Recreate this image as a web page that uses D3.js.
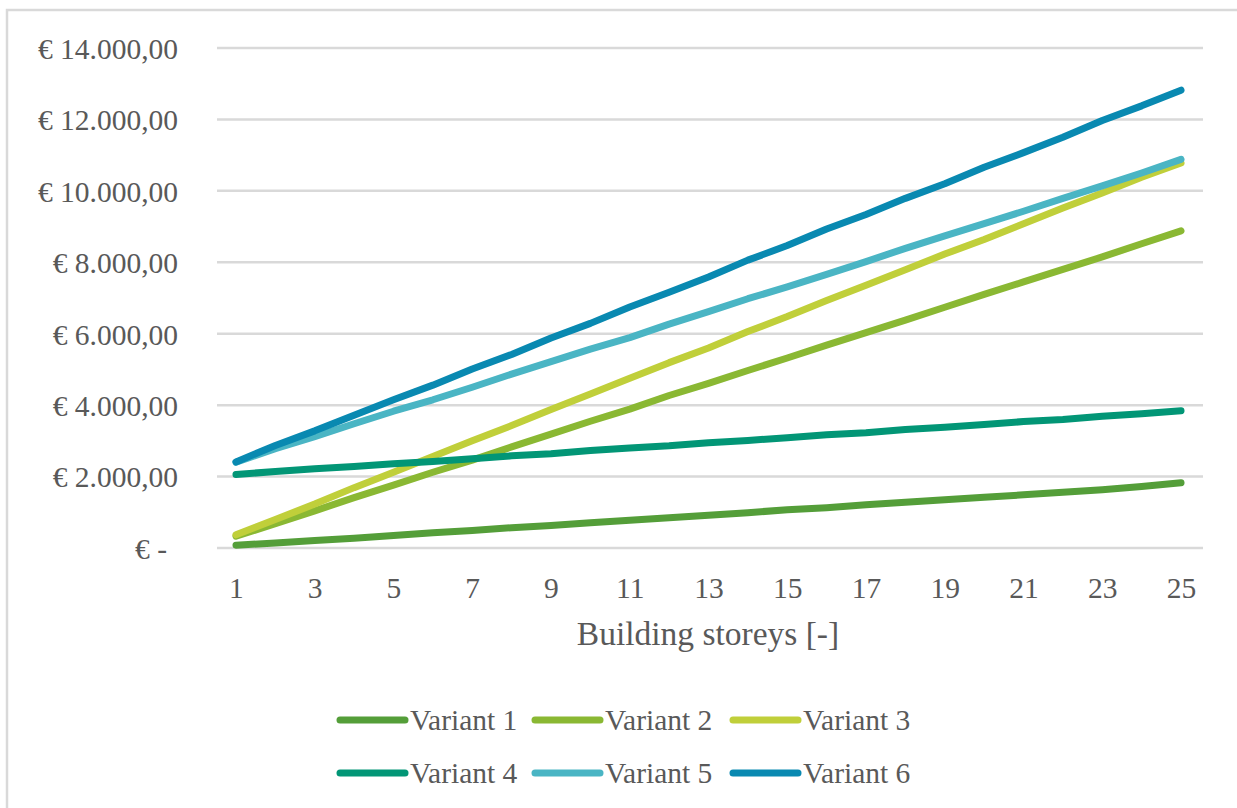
<!DOCTYPE html>
<html>
<head>
<meta charset="utf-8">
<script src="https://cdn.jsdelivr.net/npm/d3@7"></script>
<style>
  html, body { margin: 0; padding: 0; background: #fff; }
  svg { display: block; }
  text { font-family: "Liberation Serif", "Times New Roman", serif; fill: #595959; }
</style>
</head>
<body>
<svg id="chart" width="1237" height="808"></svg>
<script>
// Building storeys on the category axis
const storeys = d3.range(1, 26);
const xTickLabels = [1, 3, 5, 7, 9, 11, 13, 15, 17, 19, 21, 23, 25];
const yTicks = [0, 2000, 4000, 6000, 8000, 10000, 12000, 14000];

const seriesNames = ["Variant 1", "Variant 2", "Variant 3", "Variant 4", "Variant 5", "Variant 6"];
const seriesColors = ["#549e39", "#8ab833", "#c0cf3a", "#029676", "#4ab5c4", "#0989b1"];

// Cost per variant for 1..25 storeys (EUR)
const variant1 = [80, 140, 210, 270, 350, 430, 490, 570, 630, 710, 780, 850, 920, 990, 1070, 1130, 1210, 1280, 1350, 1420, 1490, 1560, 1630, 1720, 1830];
const variant2 = [330, 680, 1040, 1410, 1760, 2120, 2460, 2830, 3190, 3550, 3890, 4270, 4610, 4970, 5320, 5680, 6030, 6380, 6740, 7100, 7450, 7800, 8150, 8520, 8880];
const variant3 = [370, 800, 1230, 1690, 2120, 2560, 3000, 3430, 3880, 4310, 4750, 5190, 5600, 6060, 6480, 6930, 7360, 7790, 8230, 8640, 9080, 9520, 9940, 10380, 10780];
const variant4 = [2060, 2140, 2220, 2280, 2360, 2420, 2500, 2580, 2640, 2730, 2800, 2860, 2950, 3010, 3090, 3170, 3230, 3320, 3380, 3460, 3540, 3600, 3690, 3760, 3840];
const variant5 = [2400, 2780, 3120, 3480, 3830, 4150, 4500, 4870, 5220, 5570, 5890, 6270, 6620, 6980, 7310, 7660, 8020, 8390, 8740, 9080, 9430, 9790, 10140, 10500, 10880];
const variant6 = [2410, 2870, 3280, 3720, 4150, 4560, 5010, 5420, 5880, 6290, 6750, 7160, 7590, 8060, 8470, 8930, 9340, 9790, 10200, 10660, 11070, 11500, 11970, 12380, 12820];

const seriesValues = [variant1, variant2, variant3, variant4, variant5, variant6];

const svg = d3.select("#chart");

// Outer chart frame
svg.append("rect")
  .attr("x", 7).attr("y", 10)
  .attr("width", 1250).attr("height", 820)
  .attr("fill", "#fff")
  .attr("stroke", "#d9d9d9")
  .attr("stroke-width", 2.5);

const x = d3.scalePoint().domain(storeys).range([216.3, 1200.7]).padding(0.5);
const y = d3.scaleLinear().domain([0, 14000]).range([548, 48]);

// Horizontal gridlines
svg.append("g")
  .selectAll("line")
  .data(yTicks)
  .join("line")
  .attr("x1", 217).attr("x2", 1203)
  .attr("y1", d => y(d)).attr("y2", d => y(d))
  .attr("stroke", "#d9d9d9")
  .attr("stroke-width", 2.5);

// Y axis labels in accounting format
const euro = d => {
  if (d === 0) return "€ -";
  const s = d3.format(",.2f")(d);
  return "€ " + s.replace(/,/g, "#").replace(".", ",").replace(/#/g, ".");
};
const yAxis = d3.axisLeft(y).tickValues(yTicks).tickFormat(euro).tickSize(0).tickPadding(0);
const gy = svg.append("g").attr("transform", "translate(178,0)").call(yAxis);
gy.select(".domain").remove();
gy.selectAll("text")
  .attr("font-size", 29.5)
  .attr("font-family", null)
  .attr("fill", null)
  .attr("dy", "0.35em")
  .attr("x", d => d === 0 ? -11 : 0);

// X axis labels
const xAxis = d3.axisBottom(x).tickValues(xTickLabels).tickSize(0).tickPadding(0);
const gx = svg.append("g").attr("transform", "translate(0,588)").call(xAxis);
gx.select(".domain").remove();
gx.selectAll("text")
  .attr("font-size", 29.5)
  .attr("font-family", null)
  .attr("fill", null)
  .attr("dy", "0.35em");

// Axis title
svg.append("text")
  .attr("x", 708).attr("y", 633)
  .attr("dy", "0.35em")
  .attr("text-anchor", "middle")
  .attr("font-size", 33.5)
  .text("Building storeys [-]");

// Series lines
const line = d3.line()
  .x((d, i) => x(storeys[i]))
  .y(d => y(d));

svg.append("g")
  .selectAll("path")
  .data(seriesValues)
  .join("path")
  .attr("d", d => line(d))
  .attr("fill", "none")
  .attr("stroke", (d, i) => seriesColors[i])
  .attr("stroke-width", 7)
  .attr("stroke-linecap", "round")
  .attr("stroke-linejoin", "round");

// Legend: two rows of three
const legendX = [337, 532, 730];
const legendY = [720, 773];
const legend = svg.append("g")
  .selectAll("g")
  .data(seriesNames)
  .join("g")
  .attr("transform", (d, i) => `translate(${legendX[i % 3]},${legendY[Math.floor(i / 3)]})`);

legend.append("line")
  .attr("x1", 3).attr("x2", 68)
  .attr("y1", 0).attr("y2", 0)
  .attr("stroke", (d, i) => seriesColors[i])
  .attr("stroke-width", 7)
  .attr("stroke-linecap", "round");

legend.append("text")
  .attr("x", 73)
  .attr("dy", "0.35em")
  .attr("font-size", 29.5)
  .text(d => d);
</script>
</body>
</html>
